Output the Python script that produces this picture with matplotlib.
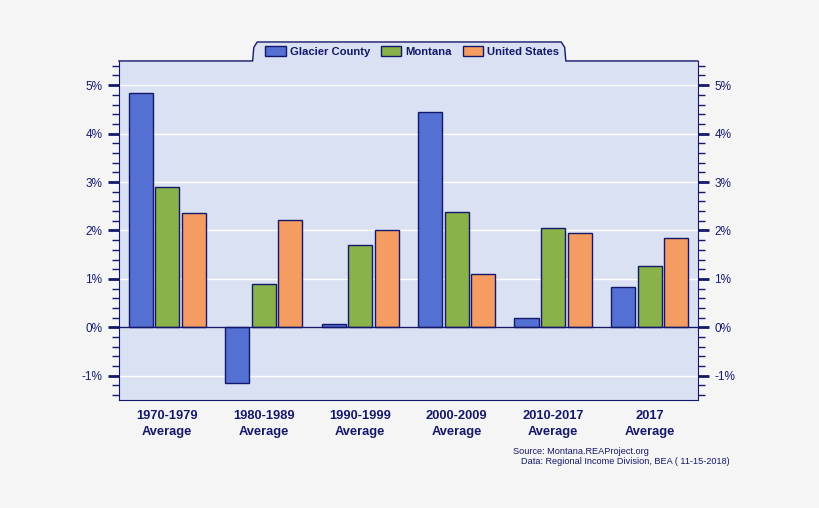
import matplotlib.pyplot as plt
from matplotlib import patches
from matplotlib.ticker import MultipleLocator, FuncFormatter
import numpy as np

categories = ['1970-1979\nAverage', '1980-1989\nAverage', '1990-1999\nAverage',
              '2000-2009\nAverage', '2010-2017\nAverage', '2017\nAverage']
glacier = [4.83, -1.14, 0.06, 4.44, 0.19, 0.83]
montana = [2.89, 0.89, 1.71, 2.38, 2.05, 1.26]
united_states = [2.36, 2.21, 2.02, 1.10, 1.94, 1.84]
series_names = ['Glacier County', 'Montana', 'United States']

navy = '#14186a'
bg = '#d9e1f2'
colors = ['#5470d2', '#89b24a', '#f49c62']

fig = plt.figure(figsize=(8.2, 5.08), dpi=100, facecolor='#f5f5f5')
ax = fig.add_axes([0.145, 0.2126, 0.706, 0.6674])
ax.set_facecolor(bg)

x = np.arange(len(categories))
width = 0.25
offset = 0.275
for i, vals in enumerate([glacier, montana, united_states]):
    ax.bar(x + (i - 1) * offset, vals, width, color=colors[i], edgecolor=navy,
           linewidth=1, label=series_names[i], zorder=3)

ax.set_xlim(-0.5, 5.5)
ax.set_ylim(-1.5, 5.5)
ax.yaxis.set_major_locator(MultipleLocator(1))
ax.yaxis.set_minor_locator(MultipleLocator(0.2))
ax.yaxis.set_major_formatter(FuncFormatter(lambda v, p: '%d%%' % round(v)))
ax.grid(axis='y', which='major', color='white', linewidth=1, zorder=1)
ax.axhline(0, color=navy, linewidth=1, zorder=4)

ax.tick_params(axis='y', which='both', direction='out', color=navy, left=True, right=True,
               labelleft=True, labelright=True, labelcolor=navy, labelsize=8.5)
ax.tick_params(axis='y', which='major', length=8, width=2, pad=4)
ax.tick_params(axis='y', which='minor', length=5, width=1)
ax.set_xticks(x)
ax.set_xticklabels(categories, fontfamily='Liberation Sans', fontweight='bold',
                   fontsize=9.3, color=navy, linespacing=1.5)
ax.tick_params(axis='x', length=0, pad=7)
for lab in ax.get_yticklabels():
    lab.set_fontfamily('Liberation Sans')

for s in ['left', 'right', 'bottom']:
    ax.spines[s].set_color(navy)
ax.spines['top'].set_visible(False)

# legend tab on top of the plot area
x0, x1, h, r = 0.231, 0.772, 0.056, 0.008
tab = [(0, 1), (x0, 1), (x0 + 0.002, 1 + h - r * 2), (x0 + r, 1 + h), (x1 - r, 1 + h),
       (x1 - 0.002, 1 + h - r * 2), (x1, 1), (1, 1)]
ax.add_patch(patches.Polygon(tab[1:-1], closed=True, facecolor=bg, edgecolor='none',
                             transform=ax.transAxes, clip_on=False, zorder=2))
ax.plot([p[0] for p in tab], [p[1] for p in tab], color=navy, linewidth=1,
        transform=ax.transAxes, clip_on=False, zorder=5)

leg = ax.legend(loc='center', bbox_to_anchor=((x0 + x1) / 2 + 0.005, 1 + h / 2 + 0.0), ncol=3,
                frameon=False, handlelength=1.8, handleheight=0.9, handletextpad=0.36,
                columnspacing=0.98, borderaxespad=0,
                prop={'family': 'Liberation Sans', 'weight': 'bold', 'size': 8.1})
for t in leg.get_texts():
    t.set_color(navy)

fig.text(0.6256, 0.112, 'Source: Montana.REAProject.org', fontsize=6.6,
         fontfamily='Liberation Sans', color=navy, va='center')
fig.text(0.6354, 0.0925, 'Data: Regional Income Division, BEA ( 11-15-2018)', fontsize=6.6,
         fontfamily='Liberation Sans', color=navy, va='center')

fig.savefig('out.png', dpi=100, facecolor=fig.get_facecolor())
